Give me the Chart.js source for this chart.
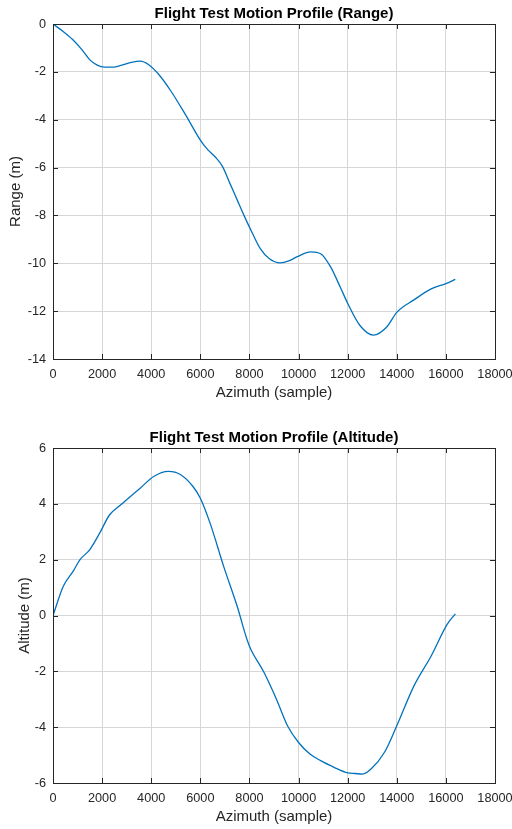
<!DOCTYPE html>
<html>
<head>
<meta charset="utf-8">
<script src="https://cdn.jsdelivr.net/npm/chart.js@4.4.1/dist/chart.umd.min.js"></script>
<style>
  body { margin: 0; background: #fff; }
  .panel { position: absolute; left: 0; }
</style>
</head>
<body>
<div class="panel" style="top:0"><canvas id="rangeChart" width="512" height="405"></canvas></div>
<div class="panel" style="top:424px"><canvas id="altChart" width="512" height="405"></canvas></div>
<script>
// Datos
const rangeAz = [0, 400, 800, 1200, 1500, 1800, 2100, 2450, 2800, 3200, 3550, 3900, 4300, 4800, 5400, 6000, 6300, 6600, 6900, 7200, 7500, 7800, 8100, 8450, 8800, 9250, 9600, 9950, 10500, 10900, 11300, 11700, 12000, 12500, 13050, 13600, 14000, 14700, 15400, 16000, 16384];
const rangeVal = [0, -0.3, -0.65, -1.1, -1.5, -1.72, -1.8, -1.8, -1.72, -1.6, -1.55, -1.7, -2.1, -2.8, -3.8, -4.85, -5.25, -5.55, -5.95, -6.65, -7.35, -8.05, -8.7, -9.4, -9.8, -9.98, -9.9, -9.72, -9.52, -9.6, -10.14, -11.0, -11.67, -12.6, -13.0, -12.65, -12.05, -11.53, -11.07, -10.85, -10.67];

const altAz = [0, 420, 830, 1100, 1500, 1900, 2300, 2700, 3000, 3550, 4100, 4700, 5200, 5700, 6000, 6400, 6950, 7500, 7900, 8050, 8600, 9100, 9550, 10000, 10450, 10900, 11450, 12000, 12300, 12600, 12950, 13500, 14000, 14700, 15400, 16050, 16384];
const altVal = [0, 1.05, 1.6, 2.0, 2.36, 2.95, 3.6, 3.92, 4.15, 4.56, 4.98, 5.16, 5.04, 4.62, 4.2, 3.3, 1.76, 0.33, -0.86, -1.2, -2.05, -3.0, -3.95, -4.55, -4.95, -5.2, -5.44, -5.64, -5.66, -5.68, -5.5, -4.9, -3.95, -2.52, -1.45, -0.32, 0.06];

const azTicks = { min: 0, max: 18000, step: 2000 };
const rangeTicks = { min: -14, max: 0, step: 2 };
const altTicks = { min: -6, max: 6, step: 2 };

const FONT = "'Liberation Sans', Arial, Helvetica, sans-serif";
const AXIS_COLOR = '#262626';
const GRID_COLOR = '#d6d6d6';
const LINE_COLOR = '#0072BD';

// Caja completa con marcas hacia dentro (estilo MATLAB)
const boxPlugin = {
    id: 'boxPlugin',
    afterDatasetsDraw(chart) {
        const { ctx, chartArea: a, scales } = chart;
        const len = 5;
        ctx.save();
        ctx.strokeStyle = AXIS_COLOR;
        ctx.lineWidth = 1;
        ctx.beginPath();
        scales.x.ticks.forEach(t => {
            const px = Math.round(scales.x.getPixelForValue(t.value)) + 0.5;
            ctx.moveTo(px, a.bottom); ctx.lineTo(px, a.bottom - len);
            ctx.moveTo(px, a.top); ctx.lineTo(px, a.top + len);
        });
        scales.y.ticks.forEach(t => {
            const py = Math.round(scales.y.getPixelForValue(t.value)) + 0.5;
            ctx.moveTo(a.left, py); ctx.lineTo(a.left + len, py);
            ctx.moveTo(a.right, py); ctx.lineTo(a.right - len, py);
        });
        ctx.stroke();
        ctx.strokeRect(Math.round(a.left) + 0.5, Math.round(a.top) + 0.5,
            Math.round(a.right - a.left), Math.round(a.bottom - a.top));
        ctx.restore();
    }
};

function makeChart(canvasId, title, yLabel, xs, ys, yTicks, yTitlePad) {
    const points = xs.map((x, i) => ({ x: x, y: ys[i] }));
    return new Chart(document.getElementById(canvasId), {
        type: 'line',
        data: {
            datasets: [{
                data: points,
                borderColor: LINE_COLOR,
                borderWidth: 1.3,
                pointRadius: 0,
                cubicInterpolationMode: 'monotone',
                fill: false
            }]
        },
        options: {
            responsive: false,
            animation: false,
            layout: { padding: { left: 0, right: 17, top: 0, bottom: 0 } },
            plugins: {
                legend: { display: false },
                tooltip: { enabled: false },
                title: {
                    display: true,
                    text: title,
                    fullSize: false,
                    color: '#000',
                    font: { family: FONT, size: 15, weight: 'bold' },
                    padding: { top: 5, bottom: 1 }
                }
            },
            scales: {
                x: {
                    type: 'linear',
                    min: azTicks.min,
                    max: azTicks.max,
                    afterFit(scale) {
                        scale.height = 46;
                        scale.paddingLeft = 0;
                        scale.paddingRight = 0;
                    },
                    grid: { color: GRID_COLOR, drawTicks: false },
                    border: { display: false },
                    ticks: {
                        stepSize: azTicks.step,
                        color: AXIS_COLOR,
                        padding: 8,
                        maxRotation: 0,
                        font: { family: FONT, size: 12.7 },
                        callback: v => String(v)
                    },
                    title: {
                        display: true,
                        text: 'Azimuth (sample)',
                        color: AXIS_COLOR,
                        font: { family: FONT, size: 15 },
                        padding: { top: 0, bottom: 3 }
                    }
                },
                y: {
                    type: 'linear',
                    min: yTicks.min,
                    max: yTicks.max,
                    afterFit(scale) { scale.width = 53; },
                    grid: { color: GRID_COLOR, drawTicks: false },
                    border: { display: false },
                    ticks: {
                        stepSize: yTicks.step,
                        color: AXIS_COLOR,
                        padding: 7,
                        font: { family: FONT, size: 12.7 },
                        callback: v => String(v)
                    },
                    title: {
                        display: true,
                        text: yLabel,
                        color: AXIS_COLOR,
                        font: { family: FONT, size: 15 },
                        padding: { top: yTitlePad, bottom: 0 }
                    }
                }
            }
        },
        plugins: [boxPlugin]
    });
}

makeChart('rangeChart', 'Flight Test Motion Profile (Range)', 'Range (m)', rangeAz, rangeVal, rangeTicks, 7);
makeChart('altChart', 'Flight Test Motion Profile (Altitude)', 'Altitude (m)', altAz, altVal, altTicks, 16);
</script>
</body>
</html>
